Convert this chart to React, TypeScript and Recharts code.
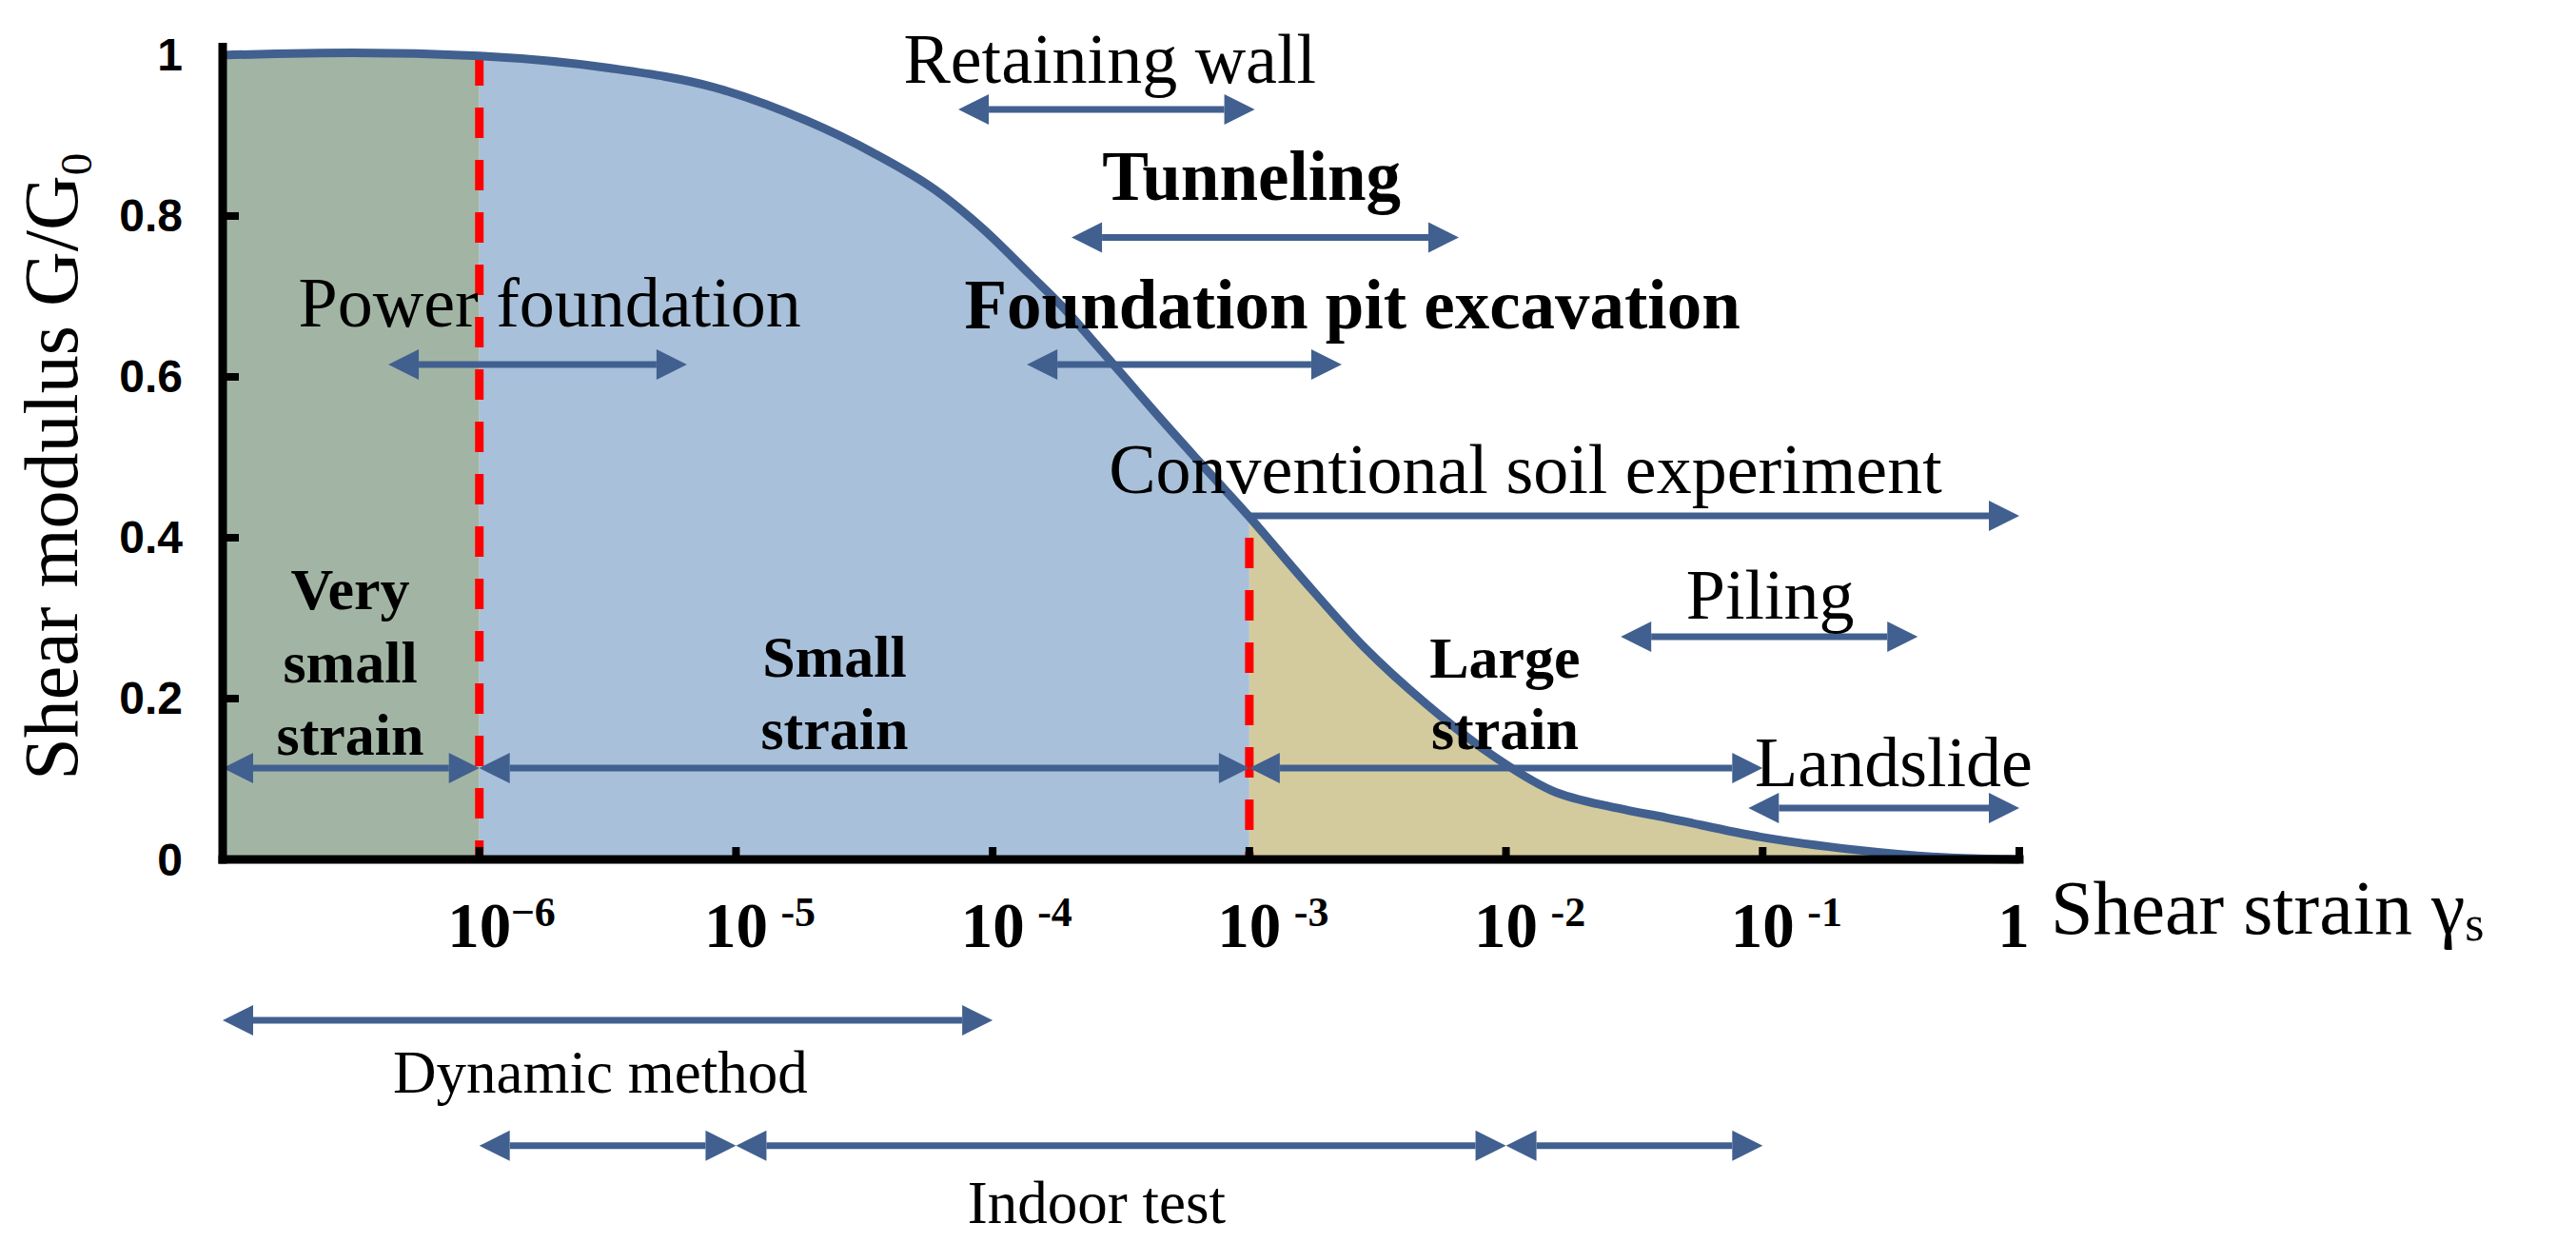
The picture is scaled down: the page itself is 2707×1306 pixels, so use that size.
import React from "react";
import {
  ComposedChart,
  Area,
  Line,
  XAxis,
  YAxis,
  ReferenceLine,
  ReferenceDot,
} from "recharts";

// G/G0 against shear strain (strain on a log axis)
const strain = [
  1e-7, 3.2e-7, 1e-6, 3.2e-6, 8.2e-6, 1.9e-5, 3.4e-5, 6.0e-5, 9.1e-5, 1.4e-4, 1.9e-4, 2.5e-4, 3.3e-4,
  4.4e-4, 6.4e-4, 1e-3, 1.6e-3, 2.8e-3, 4.9e-3, 8.8e-3, 1.5e-2, 2.7e-2, 4.2e-2, 9.8e-2, 0.23, 0.54, 1,
];
const modulus = [
  1.0, 1.003, 0.999, 0.984, 0.96, 0.918, 0.879, 0.832, 0.785, 0.727, 0.685, 0.642, 0.598,
  0.552, 0.494, 0.426, 0.35, 0.264, 0.193, 0.13, 0.086, 0.064, 0.052, 0.028, 0.012, 0.002, 0,
];

// very small / small / large strain zones
const zoneEdges = [1e-7, 1e-6, 1e-3, 1];

const xTicks = [1e-6, 1e-5, 1e-4, 1e-3, 1e-2, 1e-1, 1];
const xTickBase = ["10", "10", "10", "10", "10", "10", "1"];
const xTickExp = ["\u22126", "-5", "-4", "-3", "-2", "-1", ""];
const yTicks = [0, 0.2, 0.4, 0.6, 0.8, 1];

// [from strain, to strain, G/G0 level]
const appArrows: [number, number, number][] = [
  [7.35e-5, 1.05e-3, 0.9325], // retaining wall
  [2.03e-4, 6.55e-3, 0.7734], // tunneling
  [1.36e-4, 2.29e-3, 0.6154], // foundation pit
  [4.42e-7, 6.44e-6, 0.6154], // power foundation
  [2.8e-2, 0.402, 0.277], // piling
  [8.8e-2, 1, 0.0639], // landslide
];
const conventionalArrow: [number, number, number] = [1e-3, 1, 0.4272];
const zoneArrows: [number, number, number][] = [
  [1e-7, 1e-6, 0.1136],
  [1e-6, 1e-3, 0.1136],
  [1e-3, 1e-1, 0.1136],
];
const dynamicArrows: [number, number, number][] = [[1e-7, 1e-4, -0.2]];
const indoorArrows: [number, number, number][] = [
  [1e-6, 1e-5, -0.356],
  [1e-5, 1e-2, -0.356],
  [1e-2, 1e-1, -0.356],
];

// [text, strain, G/G0 of the baseline]
const appLabels: [string, number, number][] = [
  ["Retaining wall", 2.86e-4, 0.966],
  ["Power foundation", 1.88e-6, 0.663],
  ["Conventional soil experiment", 1.19e-2, 0.456],
  ["Piling", 0.107, 0.299],
  ["Landslide", 0.324, 0.091],
];
const appBoldLabels: [string, number, number][] = [
  ["Tunneling", 1.02e-3, 0.82],
  ["Foundation pit excavation", 2.52e-3, 0.66],
];
const zoneLabels: [string, number, number][] = [
  ["Very", 3.14e-7, 0.311],
  ["small", 3.14e-7, 0.22],
  ["strain", 3.14e-7, 0.13],
  ["Small", 2.42e-5, 0.227],
  ["strain", 2.42e-5, 0.137],
  ["Large", 9.9e-3, 0.226],
  ["strain", 9.9e-3, 0.137],
];
const testLabels: [string, number, number][] = [
  ["Dynamic method", 2.96e-6, -0.29],
  ["Indoor test", 2.54e-4, -0.452],
];

const INK = "#41608F";
const RED = "#FF0000";
const ZONE_FILLS = ["#a2b5a4", "#a8c0da", "#d3cb9e"];
const SERIF = "'Liberation Serif', 'Times New Roman', serif";
const SANS = "'Liberation Sans', Arial, sans-serif";

const rows = strain.map((s, i) => {
  const row: Record<string, number | null> = { strain: s, g: modulus[i] };
  for (let z = 0; z < 3; z++) {
    row[`zone${z}`] = s >= zoneEdges[z] && s <= zoneEdges[z + 1] ? modulus[i] : null;
  }
  return row;
});

function Arrow(props: any) {
  const { x1, y1, x2, left = true, right = true } = props;
  const len = 32;
  const half = 16;
  const a = left ? x1 + len : x1;
  const b = right ? x2 - len : x2;
  return (
    <g>
      <line x1={a} y1={y1} x2={b} y2={y1} stroke={INK} strokeWidth={7} />
      {left && <polygon points={`${x1},${y1} ${x1 + len},${y1 - half} ${x1 + len},${y1 + half}`} fill={INK} />}
      {right && <polygon points={`${x2},${y1} ${x2 - len},${y1 - half} ${x2 - len},${y1 + half}`} fill={INK} />}
    </g>
  );
}

function arrowLines(list: [number, number, number][], key: string, left = true, right = true) {
  return list.map(([from, to, level], i) => (
    <ReferenceLine
      key={`${key}-${i}`}
      segment={[
        { x: from, y: level },
        { x: to, y: level },
      ]}
      ifOverflow="visible"
      shape={(p: any) => <Arrow {...p} left={left} right={right} />}
    />
  ));
}

function textDots(list: [string, number, number][], key: string, size: number, weight: number) {
  return list.map(([text, s, level], i) => (
    <ReferenceDot
      key={`${key}-${i}`}
      x={s}
      y={level}
      r={0}
      ifOverflow="visible"
      shape={(p: any) => (
        <text x={p.cx} y={p.cy} textAnchor="middle" fontFamily={SERIF} fontSize={size} fontWeight={weight} fill="#000">
          {text}
        </text>
      )}
    />
  ));
}

function XTick(props: any) {
  const { x, y, index } = props;
  const exp = xTickExp[index];
  const gap = exp.startsWith("\u2212") ? 0 : 14;
  return (
    <g>
      <line x1={x} x2={x} y1={y} y2={y - 13} stroke="#000" strokeWidth={8} />
      <text
        x={exp ? x : x - 6}
        y={y + 92}
        textAnchor="middle"
        fontFamily={SERIF}
        fontWeight={700}
        fontSize={67}
        fill="#000"
      >
        {xTickBase[index]}
      </text>
      {exp && (
        <text x={x + 33 + gap} y={y + 70} fontFamily={SERIF} fontWeight={700} fontSize={44} fill="#000">
          {exp}
        </text>
      )}
    </g>
  );
}

function YTick(props: any) {
  const { x, y, payload } = props;
  const v = payload.value as number;
  return (
    <g>
      {v > 0 && v < 1 && <line x1={x} x2={x + 17} y1={y} y2={y} stroke="#000" strokeWidth={8} />}
      <text
        x={x - 42}
        y={y}
        textAnchor="end"
        dominantBaseline="central"
        fontFamily={SANS}
        fontWeight={700}
        fontSize={48}
        fill="#000"
      >
        {String(v)}
      </text>
    </g>
  );
}

function XTitle(props: any) {
  const vb = props.viewBox || { x: 234, y: 903, width: 1888 };
  return (
    <text x={vb.x + vb.width + 33} y={vb.y + 78} fontFamily={SERIF} fontSize={80} fill="#000">
      Shear strain γ
      <tspan dy={7} fontSize={52}>
        s
      </tspan>
    </text>
  );
}

function YTitle(props: any) {
  const vb = props.viewBox || { x: 0, y: 49.5, width: 234, height: 853.5 };
  const cx = vb.x + 81;
  const cy = vb.y + vb.height / 2 + 14;
  return (
    <text
      x={cx}
      y={cy}
      textAnchor="middle"
      transform={`rotate(-90, ${cx}, ${cy})`}
      fontFamily={SERIF}
      fontSize={80}
      fill="#000"
    >
      Shear modulus G/G
      <tspan dy={15} fontSize={47}>
        0
      </tspan>
    </text>
  );
}

export default function App() {
  return (
    <div style={{ position: "absolute", left: 0, top: 0, width: 2707, height: 1306, background: "#fff" }}>
      <ComposedChart
        width={2707}
        height={1306}
        data={rows}
        margin={{ top: 49.5, right: 585, bottom: 0, left: 0 }}
      >
        <XAxis
          dataKey="strain"
          type="number"
          scale="log"
          domain={[1e-7, 1]}
          ticks={xTicks}
          interval={0}
          height={403}
          tickSize={0}
          tickMargin={0}
          tickLine={false}
          axisLine={{ stroke: "#000", strokeWidth: 9, strokeLinecap: "square" }}
          tick={<XTick />}
          label={(p: any) => <XTitle {...p} />}
        />
        <YAxis
          type="number"
          domain={[0, 1.01]}
          ticks={yTicks}
          interval={0}
          width={234}
          tickSize={0}
          tickMargin={0}
          tickLine={false}
          axisLine={{ stroke: "#000", strokeWidth: 9, strokeLinecap: "square" }}
          tick={<YTick />}
          label={(p: any) => <YTitle {...p} />}
        />
        {ZONE_FILLS.map((c, z) => (
          <Area
            key={`zone-${z}`}
            type="monotone"
            dataKey={`zone${z}`}
            stroke="none"
            fill={c}
            fillOpacity={1}
            isAnimationActive={false}
          />
        ))}
        <ReferenceLine
          segment={[
            { x: 1e-6, y: 1.0 },
            { x: 1e-6, y: 0 },
          ]}
          stroke={RED}
          strokeWidth={9}
          strokeDasharray="32 23"
          ifOverflow="visible"
        />
        <ReferenceLine
          segment={[
            { x: 1e-3, y: 0.4 },
            { x: 1e-3, y: 0 },
          ]}
          stroke={RED}
          strokeWidth={9}
          strokeDasharray="32 23"
          ifOverflow="visible"
        />
        <Line
          type="monotone"
          dataKey="g"
          stroke={INK}
          strokeWidth={9}
          dot={false}
          activeDot={false}
          isAnimationActive={false}
        />
        {arrowLines(appArrows, "app")}
        {arrowLines([conventionalArrow], "conv", false, true)}
        {arrowLines(zoneArrows, "zone")}
        {arrowLines(dynamicArrows, "dyn")}
        {arrowLines(indoorArrows, "indoor")}
        {textDots(appLabels, "app", 74, 400)}
        {textDots(appBoldLabels, "appb", 73, 700)}
        {textDots(zoneLabels, "zone", 62, 700)}
        {textDots(testLabels, "test", 63, 400)}
      </ComposedChart>
    </div>
  );
}
